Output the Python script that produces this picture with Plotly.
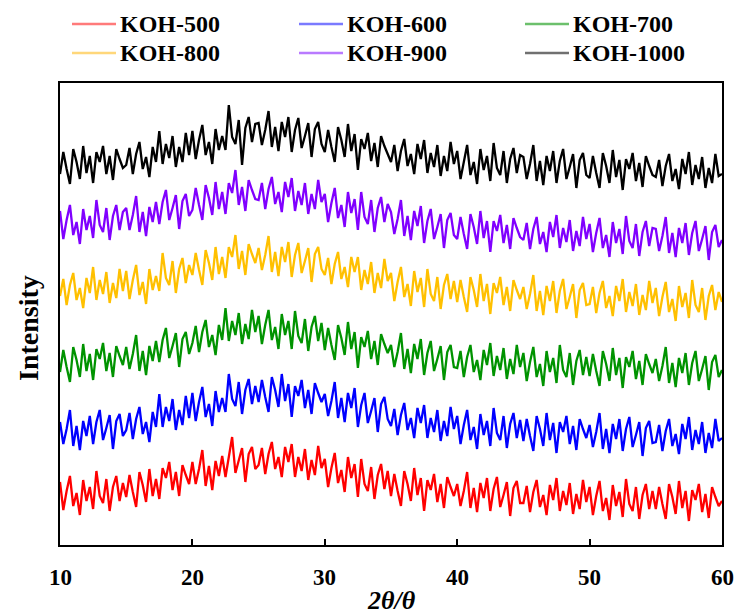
import plotly.graph_objects as go

# 2theta sampling grid (degrees)
TWO_THETA = [10 + 0.25 * i for i in range(201)]

SERIES_NAMES = ["KOH-500", "KOH-600", "KOH-700", "KOH-800", "KOH-900", "KOH-1000"]
LINE_COLORS = ["#ff0000", "#0000ff", "#009300", "#ffc000", "#8000ff", "#000000"]
LEGEND_COLORS = ["#ff7a7a", "#7a7aff", "#6cc06c", "#ffd77a", "#b97aff", "#707070"]

KOH_500 = [
    63,35,54,69,39,52,30,65,44,58, 36,74,49,42,66,34,58,69,44,62,
    48,70,53,38,73,60,43,76,49,66, 46,77,67,83,55,73,49,80,70,61,
    83,61,76,95,59,79,55,84,69,89, 68,90,108,72,84,97,63,91,98,76,
    80,97,71,91,103,76,88,68,98,83, 101,68,88,74,96,65,85,70,99,77,
    86,58,77,92,62,75,53,88,67,81, 48,86,61,54,78,46,70,81,56,74,
    49,71,54,39,74,61,44,77,50,67, 34,65,55,71,43,61,37,68,58,49,
    61,39,54,73,37,57,33,62,47,67, 34,56,68,38,50,63,29,57,64,42,
    42,59,33,53,65,38,50,30,60,45, 67,34,54,40,62,31,51,36,65,43,
    58,30,49,64,34,47,25,60,39,53, 28,66,41,34,58,26,50,61,36,54,
    36,58,41,26,61,48,31,64,37,54, 24,55,45,61,33,51,27,58,48,39,
    44,
]

KOH_600 = [
    123,101,116,135,99,119,95,124,109,129, 101,123,135,105,117,130,96,124,131,109,
    115,132,106,126,138,111,123,103,133,118, 151,118,138,124,146,115,135,120,149,127,
    152,124,143,158,128,141,119,154,133,147, 133,171,146,139,163,131,155,166,141,159,
    143,165,148,133,168,155,138,171,144,161, 128,159,149,165,137,155,131,162,152,143,
    151,129,144,163,127,147,123,152,137,157, 118,140,152,122,134,147,113,141,148,126,
    119,136,110,130,142,115,127,107,137,122, 140,107,127,113,135,104,124,109,138,116,
    129,101,120,135,105,118,96,131,110,124, 99,137,112,105,129,97,121,132,107,125,
    104,126,109,94,129,116,99,132,105,122, 92,123,113,129,101,119,95,126,116,107,
    120,98,113,132,96,116,92,121,106,126, 94,116,128,98,110,123,89,117,124,102,
    103,120,94,114,126,99,111,91,121,106, 128,95,115,101,123,92,112,97,126,104,
    107,
]

KOH_700 = [
    173,195,178,163,198,185,168,201,174,191, 165,196,186,202,174,192,168,199,189,180,
    198,176,191,210,174,194,170,199,184,204, 183,205,217,187,199,212,178,206,213,191,
    202,219,193,213,225,198,210,190,220,205, 237,204,224,210,232,201,221,206,235,213,
    229,201,220,235,205,218,196,231,210,224, 196,234,209,202,226,194,218,229,204,222,
    195,217,200,185,220,207,190,223,196,213, 177,208,198,214,186,204,180,211,201,192,
    200,178,193,212,176,196,172,201,186,206, 170,192,204,174,186,199,165,193,200,178,
    177,194,168,188,200,173,185,165,195,180, 202,169,189,175,197,166,186,171,200,178,
    192,164,183,198,168,181,159,194,173,187, 162,200,175,168,192,160,184,195,170,188,
    169,191,174,159,194,181,164,197,170,187, 157,188,178,194,166,184,160,191,181,172,
    186,164,179,198,162,182,158,187,172,192, 160,182,194,164,176,189,155,183,190,168,
    175,
]

KOH_800 = [
    249,266,240,260,272,245,257,237,267,252, 278,245,265,251,273,242,262,247,276,254,
    274,246,265,280,250,263,241,276,255,269, 254,292,267,260,284,252,276,287,262,280,
    270,292,275,260,295,282,265,298,271,288, 267,298,288,310,276,294,270,301,291,282,
    297,275,290,309,273,293,269,298,283,303, 268,290,302,272,284,297,263,291,298,276,
    270,287,261,281,293,266,278,258,288,273, 288,255,275,261,283,252,272,257,286,264,
    272,244,263,278,248,261,239,274,253,267, 238,276,251,244,268,236,260,271,246,264,
    243,265,248,233,268,255,238,271,244,261, 231,262,252,268,240,258,234,265,255,246,
    258,236,251,270,234,254,230,259,244,264, 232,254,266,236,248,261,227,255,262,240,
    241,258,232,252,264,237,249,229,259,244, 266,233,253,239,261,230,250,235,264,242,
    257,229,248,263,233,246,224,259,238,252, 227,265,240,233,257,225,249,260,235,253,
    243,
]

KOH_900 = [
    334,306,325,340,310,323,301,336,315,329, 307,345,320,313,337,305,329,340,315,333,
    337,315,330,349,313,333,309,338,323,343, 321,343,355,325,337,350,316,344,351,329,
    335,357,340,325,360,347,330,363,336,353, 331,362,352,375,340,358,334,365,355,346,
    345,362,336,356,368,341,353,333,363,348, 367,334,354,340,362,331,351,336,365,343,
    351,323,342,357,327,340,318,353,332,346, 315,353,328,321,345,313,337,348,323,341,
    333,311,326,345,309,329,305,334,319,339, 302,324,336,306,318,331,297,325,332,310,
    306,328,311,296,331,318,301,334,307,324, 293,324,314,330,302,320,296,327,317,308,
    305,322,296,316,328,301,313,293,323,308, 330,297,317,303,325,294,314,299,328,306,
    321,293,312,327,297,310,288,323,302,316, 291,329,304,297,321,289,313,324,299,317,
    316,294,309,328,292,312,288,317,302,322, 290,312,324,294,306,319,285,313,320,298,
    305,
]

KOH_1000 = [
    371,393,376,361,396,383,366,399,372,389, 362,393,383,399,371,389,365,396,386,377,
    380,397,371,391,403,376,388,368,398,383, 414,381,401,387,409,378,398,383,412,390,
    414,386,405,420,390,403,381,416,395,409, 395,440,408,401,425,380,417,428,403,421,
    422,400,415,434,398,418,394,423,408,428, 393,415,427,397,409,422,388,416,423,401,
    393,415,398,383,418,405,388,421,394,411, 375,406,396,412,384,402,378,409,399,390,
    383,400,374,394,406,379,391,371,401,386, 405,372,392,378,400,369,389,374,403,381,
    394,366,385,400,370,383,361,396,375,389, 364,402,377,370,394,362,386,397,372,390,
    388,366,381,400,364,384,360,389,374,394, 362,384,396,366,378,391,357,385,392,370,
    367,389,372,357,392,379,362,395,368,385, 355,386,376,392,364,382,358,389,379,370,
    368,385,359,379,391,364,376,356,386,371, 393,360,380,366,388,357,377,362,391,369,
    371,
]

X_TICKS = [10, 20, 30, 40, 50, 60]

SERIES = [KOH_500, KOH_600, KOH_700, KOH_800, KOH_900, KOH_1000]

FONT = "Liberation Serif, Times New Roman, serif"

W, H = 736, 614
# plot area in page pixels
PX0, PX1, PY0, PY1 = 60, 722, 83, 545


def px_x(p):
    return (p - PX0) / (PX1 - PX0)


def px_y(p):
    return (PY1 - p) / (PY1 - PY0)


fig = go.Figure()

for name, ys, col in zip(SERIES_NAMES, SERIES, LINE_COLORS):
    fig.add_trace(go.Scatter(x=TWO_THETA, y=ys, mode="lines", name=name,
                             line=dict(color=col, width=2.3), showlegend=False))

annotations = []
shapes = []

# legend, 3 columns x 2 rows, drawn as line shapes plus text
LEG_TEXT_X = [120, 347, 573]
LEG_ROW_Y = [24, 53]
for i, (name, col) in enumerate(zip(SERIES_NAMES, LEGEND_COLORS)):
    tx = LEG_TEXT_X[i % 3]
    ty = LEG_ROW_Y[i // 3]
    shapes.append(dict(type="line", xref="paper", yref="paper",
                       x0=px_x(tx - 48), x1=px_x(tx - 4), y0=px_y(ty), y1=px_y(ty),
                       line=dict(color=col, width=2.5)))
    annotations.append(dict(text=f"<b>{name}</b>", xref="paper", yref="paper",
                            x=px_x(tx - 2), y=px_y(ty), xanchor="left", yanchor="middle",
                            showarrow=False,
                            font=dict(family=FONT, size=24, color="black")))

# x tick labels
for t in X_TICKS:
    annotations.append(dict(text=f"<b>{t}</b>", xref="x", yref="paper",
                            x=t, y=px_y(577), xanchor="center", yanchor="middle",
                            showarrow=False,
                            font=dict(family=FONT, size=23, color="black")))

annotations += [
    dict(text="<b><i>2θ/θ</i></b>", xref="paper", yref="paper",
         x=0.5, y=px_y(600), xanchor="center", yanchor="middle",
         showarrow=False, font=dict(family=FONT, size=26, color="black")),
    dict(text="<b>Intensity</b>", xref="paper", yref="paper",
         x=px_x(28), y=px_y(328), xanchor="center", yanchor="middle",
         textangle=-90, showarrow=False,
         font=dict(family=FONT, size=28, color="black")),
]

fig.update_layout(
    width=W, height=H,
    margin=dict(l=PX0, r=W - PX1, t=PY0, b=H - PY1, autoexpand=False),
    plot_bgcolor="white", paper_bgcolor="white",
    font=dict(family=FONT, color="black"),
    showlegend=False,
    xaxis=dict(
        range=[10, 60], tickvals=X_TICKS, showticklabels=False,
        ticks="inside", ticklen=6, tickwidth=1.5, tickcolor="black",
        showline=True, mirror=True, linecolor="black", linewidth=1.5,
        showgrid=False, zeroline=False,
    ),
    yaxis=dict(
        range=[0, 462], showticklabels=False, ticks="",
        showline=True, mirror=True, linecolor="black", linewidth=1.5,
        showgrid=False, zeroline=False,
    ),
    shapes=shapes,
    annotations=annotations,
)

# remove the default 8px page margin so the figure fills the window exactly
fig.write_html(
    "out.html",
    config={"displayModeBar": False},
    post_script="document.body.style.margin='0';document.body.style.overflow='hidden';",
)
